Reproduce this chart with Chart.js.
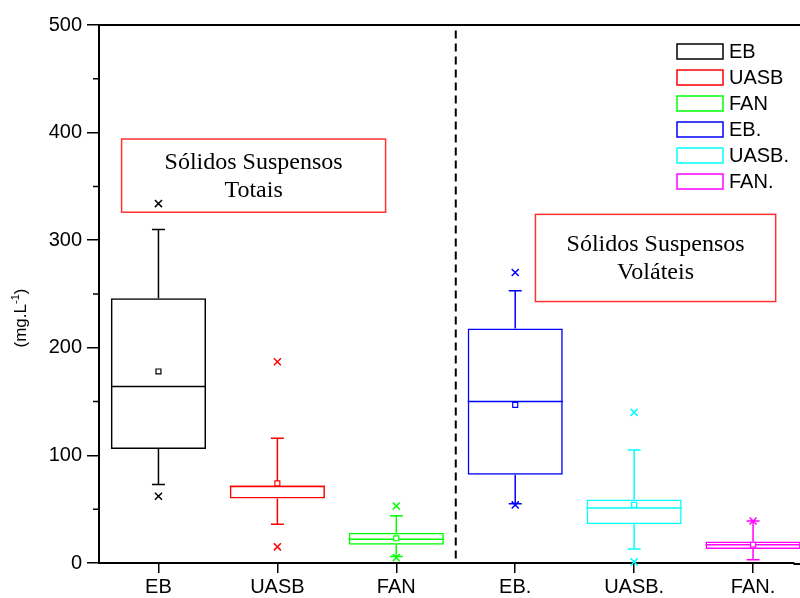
<!DOCTYPE html>
<html>
<head>
<meta charset="utf-8">
<script src="https://cdn.jsdelivr.net/npm/chart.js@4/dist/chart.umd.min.js"></script>
<style>
body { margin: 0; background: #fff; }
</style>
</head>
<body>
<canvas id="chart" width="800" height="598"></canvas>
<script>
// box plot values (mg/L)
const categories = ["EB", "UASB", "FAN", "EB.", "UASB.", "FAN."];
const colors = ["#000000", "#ff0000", "#00ff00", "#0000ff", "#00ffff", "#ff00ff"];
const whiskerLow = [73, 36, 6, 55, 13, 3];
const q1 = [106, 60, 17, 82, 36, 13];
const median = [164, 71, 22, 150, 51, 17];
const q3 = [246, 72, 28, 218, 59, 20];
const whiskerHigh = [310, 116, 44, 253, 105, 39];
const means = [178, 74, 23, 147, 54, 17];
const outlierHigh = [334, 187, 53, 270, 140, 39];
const outlierLow = [62, 15, 5, 54, 1, null];
const yTicks = [0, 100, 200, 300, 400, 500];
const annotations = [
	{lines: ["Sólidos Suspensos", "Totais"], x0: 0.69, x1: 2.91, y0: 326, y1: 394},
	{lines: ["Sólidos Suspensos", "Voláteis"], x0: 4.17, x1: 6.19, y0: 243, y1: 324}
];

const sans = "'Liberation Sans', Arial, sans-serif";
const serif = "'Liberation Serif', 'Times New Roman', serif";

let boxes = categories.map((c, i) => ({x: i + 1, y: [q1[i], q3[i]]}));
let meanPts = categories.map((c, i) => ({x: i + 1, y: means[i]}));
let outPts = [], outColors = [];
for(let i = 0; i < categories.length; i++){
	if(outlierHigh[i] != null){ outPts.push({x: i + 1, y: outlierHigh[i]}); outColors.push(colors[i]); }
	if(outlierLow[i] != null){ outPts.push({x: i + 1, y: outlierLow[i]}); outColors.push(colors[i]); }
}

const boxExtras = {
	id: "boxExtras",
	beforeDatasetsDraw(chart){
		let ctx = chart.ctx, xs = chart.scales.x, ys = chart.scales.y;
		let meta = chart.getDatasetMeta(0);
		ctx.save();
		// text boxes (under the marks)
		for(let a of annotations){
			let l = xs.getPixelForValue(a.x0), r = xs.getPixelForValue(a.x1);
			let t = ys.getPixelForValue(a.y1), b = ys.getPixelForValue(a.y0);
			ctx.strokeStyle = "rgb(255,50,50)";
			ctx.lineWidth = 1.5;
			ctx.strokeRect(l, t, r - l, b - t);
			ctx.fillStyle = "#000";
			ctx.font = "24px " + serif;
			ctx.textAlign = "center";
			ctx.textBaseline = "middle";
			let cx = (l + r) / 2, cy = (t + b) / 2;
			ctx.fillText(a.lines[0], cx, cy - 13);
			ctx.fillText(a.lines[1], cx, cy + 15);
		}
		ctx.lineWidth = 1.5;
		for(let i = 0; i < categories.length; i++){
			let x = xs.getPixelForValue(i + 1);
			let half = meta.data[i].width / 2;
			ctx.strokeStyle = colors[i];
			ctx.beginPath();
			// whiskers
			ctx.moveTo(x, ys.getPixelForValue(q3[i]));
			ctx.lineTo(x, ys.getPixelForValue(whiskerHigh[i]));
			ctx.moveTo(x, ys.getPixelForValue(q1[i]));
			ctx.lineTo(x, ys.getPixelForValue(whiskerLow[i]));
			ctx.moveTo(x - 6.5, ys.getPixelForValue(whiskerHigh[i]));
			ctx.lineTo(x + 6.5, ys.getPixelForValue(whiskerHigh[i]));
			ctx.moveTo(x - 6.5, ys.getPixelForValue(whiskerLow[i]));
			ctx.lineTo(x + 6.5, ys.getPixelForValue(whiskerLow[i]));
			// median
			ctx.moveTo(x - half, ys.getPixelForValue(median[i]));
			ctx.lineTo(x + half, ys.getPixelForValue(median[i]));
			ctx.stroke();
		}
		ctx.restore();
	},
	afterDraw(chart){
		let ctx = chart.ctx, xs = chart.scales.x, ys = chart.scales.y, area = chart.chartArea;
		ctx.save();
		// top frame line, and axis lines run to the picture edge
		ctx.strokeStyle = "#000";
		ctx.lineWidth = 2;
		ctx.beginPath();
		ctx.moveTo(area.left - 1, area.top);
		ctx.lineTo(chart.width, area.top);
		ctx.moveTo(area.right, area.bottom + 1);
		ctx.lineTo(chart.width, area.bottom + 1);
		ctx.stroke();
		// minor y ticks
		ctx.lineWidth = 1.5;
		ctx.beginPath();
		for(let v = 50; v < 500; v += 100){
			let y = ys.getPixelForValue(v);
			ctx.moveTo(area.left - 6, y);
			ctx.lineTo(area.left, y);
		}
		ctx.stroke();
		// dashed separator
		ctx.setLineDash([8, 5]);
		ctx.lineWidth = 2;
		ctx.beginPath();
		let xd = xs.getPixelForValue(3.5);
		ctx.moveTo(xd, ys.getPixelForValue(495));
		ctx.lineTo(xd, ys.getPixelForValue(2));
		ctx.stroke();
		ctx.setLineDash([]);
		// y axis title with superscript
		ctx.translate(26, 318);
		ctx.rotate(-Math.PI / 2);
		ctx.fillStyle = "#000";
		ctx.textBaseline = "alphabetic";
		ctx.textAlign = "left";
		let s1 = "(mg.L", s2 = "-1", s3 = ")";
		ctx.font = "17px " + sans;
		let w1 = ctx.measureText(s1).width;
		ctx.font = "11px " + sans;
		let w2 = ctx.measureText(s2).width;
		ctx.font = "17px " + sans;
		let w3 = ctx.measureText(s3).width;
		let x0 = -(w1 + w2 + w3) / 2;
		ctx.fillText(s1, x0, 0);
		ctx.font = "11px " + sans;
		ctx.fillText(s2, x0 + w1, -7);
		ctx.font = "17px " + sans;
		ctx.fillText(s3, x0 + w1 + w2, 0);
		ctx.setTransform(1, 0, 0, 1, 0, 0);
		// legend
		ctx.font = "20px " + sans;
		ctx.textAlign = "left";
		ctx.textBaseline = "middle";
		ctx.lineWidth = 1.5;
		for(let i = 0; i < categories.length; i++){
			let y = 51.5 + i * 26;
			ctx.strokeStyle = colors[i];
			ctx.strokeRect(677, y - 7.5, 46, 15);
			ctx.fillStyle = "#000";
			ctx.fillText(categories[i], 729, y + 1);
		}
		ctx.restore();
	}
};

let graph = document.getElementById("chart").getContext("2d");
let myChart = new Chart(graph, {
	type: "bar",
	data: {
		datasets: [{
			label: "box",
			data: boxes,
			backgroundColor: "rgba(0,0,0,0)",
			borderColor: colors,
			borderWidth: 1.5,
			borderSkipped: false,
			barPercentage: 1,
			categoryPercentage: 0.8,
			clip: false,
			order: 3
		},{
			type: "scatter",
			label: "mean",
			data: meanPts,
			pointStyle: "rect",
			pointRadius: 3.5,
			borderWidth: 1.2,
			borderColor: colors,
			backgroundColor: "#fff",
			clip: false,
			order: 1
		},{
			type: "scatter",
			label: "outliers",
			data: outPts,
			pointStyle: "crossRot",
			pointRadius: 5,
			borderWidth: 1.5,
			borderColor: outColors,
			clip: false,
			order: 2
		}]
	},
	options: {
		responsive: false,
		animation: false,
		layout: {padding: {top: 25, right: 0, left: 0, bottom: 0}},
		plugins: {legend: {display: false}, tooltip: {enabled: false}},
		scales: {
			x: {
				type: "linear",
				min: 0.5,
				max: 6.34,
				offset: false,
				afterBuildTicks: (s) => { s.ticks = categories.map((c, i) => ({value: i + 1})); },
				afterFit: (s) => { s.height = 35; },
				ticks: {
					callback: (v) => categories[v - 1],
					color: "#000",
					font: {family: sans, size: 20},
					padding: 2,
					maxRotation: 0,
					autoSkip: false
				},
				grid: {offset: false, drawOnChartArea: false, tickLength: 10, color: "#000", lineWidth: 1.5},
				border: {color: "#000", width: 2}
			},
			y: {
				min: 0,
				max: 500,
				afterBuildTicks: (s) => { s.ticks = yTicks.map(v => ({value: v})); },
				afterFit: (s) => { s.width = 99; },
				ticks: {
					color: "#000",
					font: {family: sans, size: 20},
					padding: 5
				},
				grid: {drawOnChartArea: false, tickLength: 12, color: "#000", lineWidth: 1.5},
				border: {color: "#000", width: 2}
			}
		}
	},
	plugins: [boxExtras]
});
</script>
</body>
</html>
